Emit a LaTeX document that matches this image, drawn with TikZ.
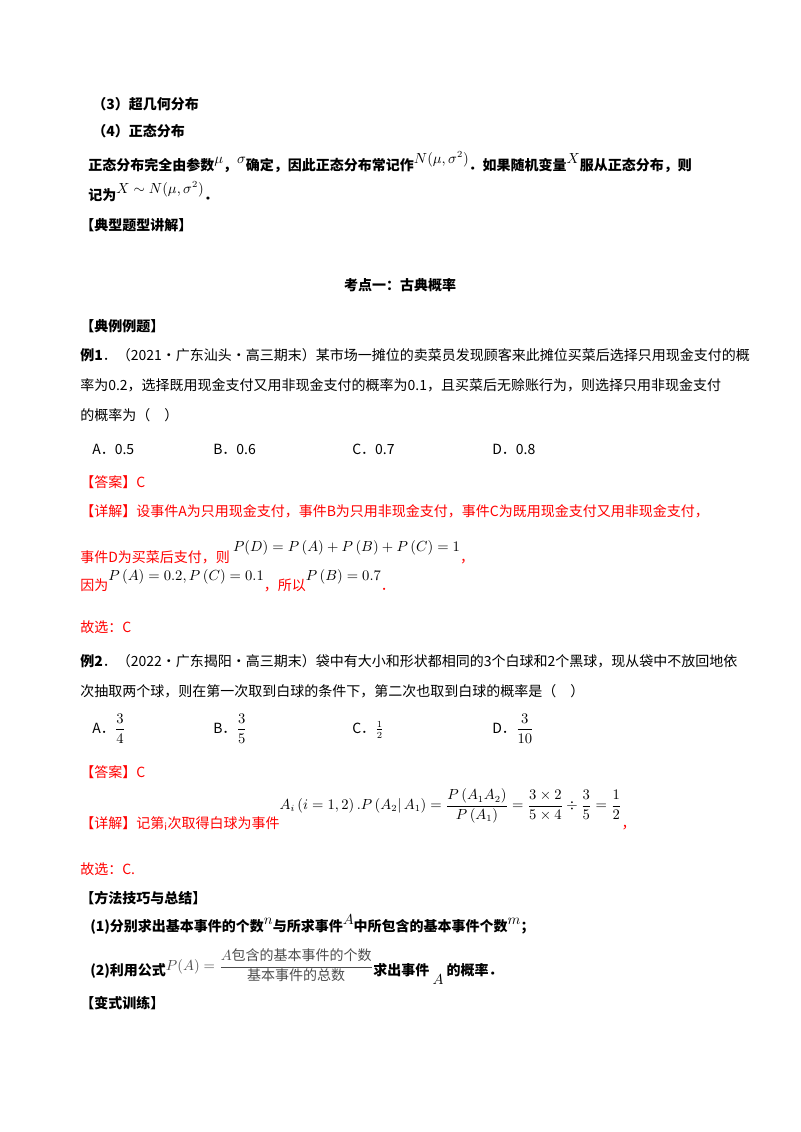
\documentclass[tikz,border=0pt]{standalone}
\usepackage{fontspec}
\setmainfont{Noto Sans CJK SC}
\usepackage{amsmath}
\definecolor{ansred}{RGB}{255,0,0}
\newcommand{\up}[1]{\raisebox{0.9ex}{$#1$}}
\begin{document}
\begin{tikzpicture}[x=0.75pt,y=-0.75pt,
  tx/.style={anchor=base west,inner sep=0pt,font=\fontsize{10.5}{12}\selectfont},
  bx/.style={tx,font=\fontsize{10.5}{12}\selectfont\bfseries},
  rx/.style={tx,text=ansred}]
\useasboundingbox (0,0) rectangle (800,1132);
\node[bx] (l1) at (92,109) {（3）超几何分布};
\node[bx] (l2) at (92,136) {（4）正态分布};
\node[bx] (l3) at (88,170) {正态分布完全由参数\up{\mu}，\up{\sigma}确定，因此正态分布常记作\up{N(\mu,\sigma^2)}．如果随机变量\up{X}服从正态分布，则};
\node[bx] (l4) at (88,200) {记为\up{X\sim N(\mu,\sigma^2)}．};
\node[bx] (h1) at (80,230) {【典型题型讲解】};
\node[bx,anchor=base] (h2) at (400,290) {考点一：古典概率};
\node[bx] (h3) at (80,331) {【典例例题】};
\node[tx] (e1a) at (80,360) {\textbf{例1}．（2021·广东汕头·高三期末）某市场一摊位的卖菜员发现顾客来此摊位买菜后选择只用现金支付的概};
\node[tx] (e1b) at (80,390) {率为0.2，选择既用现金支付又用非现金支付的概率为0.1，且买菜后无赊账行为，则选择只用非现金支付};
\node[tx] (e1c) at (80,420) {的概率为（\quad ）};
\node[tx] (o1) at (92,454) {A．0.5};
\node[tx] (o2) at (213,454) {B．0.6};
\node[tx] (o3) at (352,454) {C．0.7};
\node[tx] (o4) at (492,454) {D．0.8};
\node[rx] (a1) at (80,487) {【答案】C};
\node[rx] (d1) at (80,516) {【详解】设事件\textit{A}为只用现金支付，事件\textit{B}为只用非现金支付，事件\textit{C}为既用现金支付又用非现金支付，};
\node[rx] (d2) at (80,562) {事件\textit{D}为买菜后支付，则 \raisebox{1.4ex}{\color{black}$P(D)=P\left(A\right)+P\left(B\right)+P\left(C\right)=1$}，};
\node[rx] (d3) at (80,590) {因为\raisebox{1.2ex}{\color{black}$P\left(A\right)=0.2,P\left(C\right)=0.1$}，所以\raisebox{1.2ex}{\color{black}$P\left(B\right)=0.7$}．};
\node[rx] (d4) at (80,632) {故选：C};
\node[tx] (e2a) at (80,666) {\textbf{例2}．（2022·广东揭阳·高三期末）袋中有大小和形状都相同的3个白球和2个黑球，现从袋中不放回地依};
\node[tx] (e2b) at (80,696) {次抽取两个球，则在第一次取到白球的条件下，第二次也取到白球的概率是（\quad ）};
\node[tx] (p1) at (92,733) {A．$\dfrac{3}{4}$};
\node[tx] (p2) at (213,733) {B．$\dfrac{3}{5}$};
\node[tx] (p3) at (352,733) {C．$\frac{1}{2}$};
\node[tx] (p4) at (492,733) {D．$\dfrac{3}{10}$};
\node[rx] (a2) at (80,777) {【答案】C};
\node[rx] (d5) at (80,828) {【详解】记第$_{\mathrm{i}}$次取得白球为事件\raisebox{2.4ex}{\color{black}$A_i\left(i=1,2\right).P\left(A_2|\,A_1\right)=\dfrac{P\left(A_1A_2\right)}{P\left(A_1\right)}=\dfrac{3\times2}{5\times4}\div\dfrac{3}{5}=\dfrac{1}{2}$}，};
\node[rx] (d6) at (80,874) {故选：C.};
\node[bx] (h4) at (80,903) {【方法技巧与总结】};
\node[bx] (m1) at (90,931) {(1)分别求出基本事件的个数\up{n}与所求事件\up{A}中所包含的基本事件个数\up{m}；};
\node[bx] (m2) at (90,975) {(2)利用公式\raisebox{0.6ex}{\mdseries\color{black!70}$P(A)=\dfrac{A\text{包含的基本事件的个数}}{\text{基本事件的总数}}$}求出事件 \raisebox{-1.2ex}{$A$} 的概率．};
\node[bx] (h5) at (80,1008) {【变式训练】};
\end{tikzpicture}
\end{document}
